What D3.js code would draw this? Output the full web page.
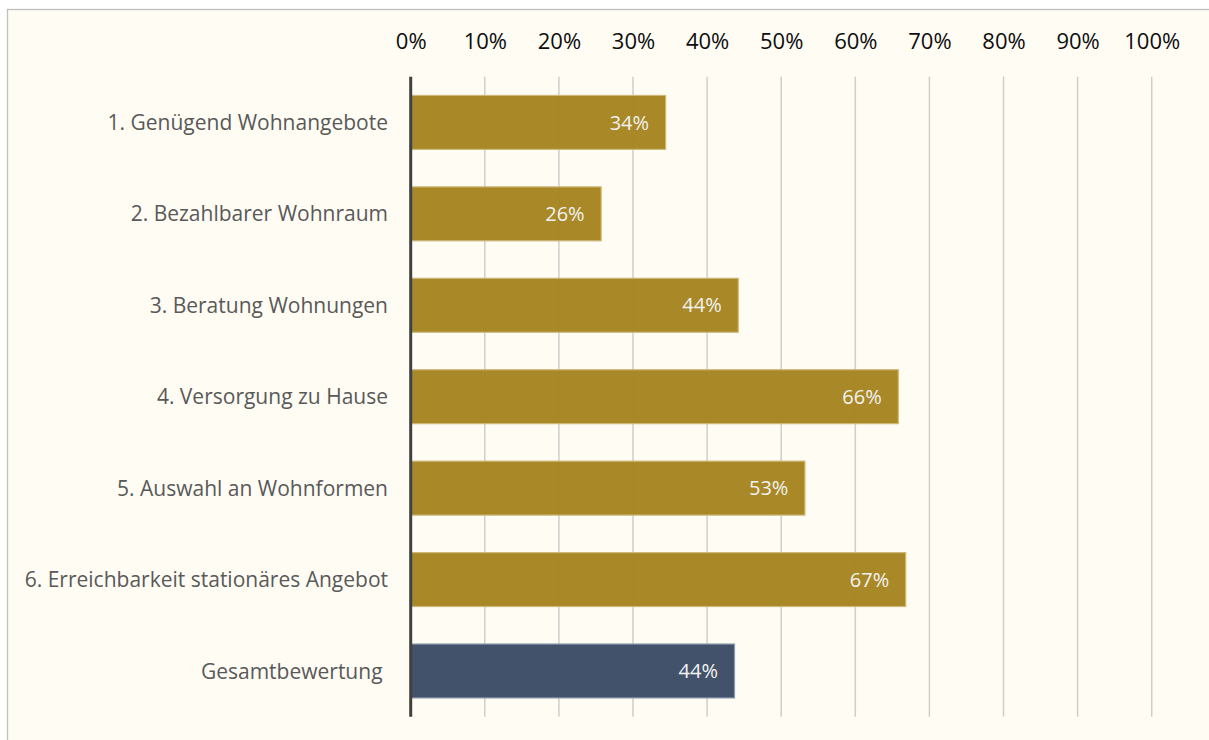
<!DOCTYPE html>
<html><head><meta charset="utf-8">
<script src="https://cdn.jsdelivr.net/npm/d3@7"></script>
<style>
html,body{margin:0;padding:0;background:#fff;}
svg{display:block;}
</style></head>
<body>
<svg id="chart" width="1209" height="740"></svg>
<script>
const categories = [
  "1. Genügend Wohnangebote",
  "2. Bezahlbarer Wohnraum",
  "3. Beratung Wohnungen",
  "4. Versorgung zu Hause",
  "5. Auswahl an Wohnformen",
  "6. Erreichbarkeit stationäres Angebot",
  "Gesamtbewertung\u00A0"
];
const values = [34.4, 25.7, 44.2, 65.8, 53.2, 66.8, 43.7];
const valueLabels = ["34%", "26%", "44%", "66%", "53%", "67%", "44%"];
const tickValues = [0, 10, 20, 30, 40, 50, 60, 70, 80, 90, 100];
const tickLabels = ["0%", "10%", "20%", "30%", "40%", "50%", "60%", "70%", "80%", "90%", "100%"];

(function () {
const svg = d3.select("#chart");
const W = 1209, H = 740;
svg.append("rect").attr("x", 0).attr("y", 0).attr("width", W).attr("height", H).attr("fill", "#ffffff");
svg.append("rect").attr("x", 7.5).attr("y", 9.5).attr("width", W + 10).attr("height", H + 10)
  .attr("fill", "#FFFCF4").attr("stroke", "#BFBFBF").attr("stroke-width", 1.3);

const pLeft = 410.7, pRight = 1151.7, pTop = 76.7, pBottom = 716.7;
const x = d3.scaleLinear().domain([0, 100]).range([pLeft, pRight]);
const y = d3.scaleBand().domain(categories).range([pTop, pBottom]).paddingInner(0.41).paddingOuter(0.205);

const font = "'Open Sans', 'DejaVu Sans', sans-serif";

svg.append("g").selectAll("line").data(tickValues.slice(1)).join("line")
  .attr("x1", d => x(d)).attr("x2", d => x(d))
  .attr("y1", pTop).attr("y2", pBottom)
  .attr("stroke", "#D0CECB").attr("stroke-width", 1.5);

const axis = d3.axisTop(x).tickValues(tickValues).tickFormat((d, i) => tickLabels[i]).tickSize(0).tickPadding(0);
const gAxis = svg.append("g").attr("transform", `translate(0,${49})`).call(axis);
gAxis.select(".domain").remove();
gAxis.selectAll("text").attr("font-family", font).attr("font-size", 22).attr("fill", "#0D0D0D").attr("dy", 0);

const colors = ["#A58420", "#A58420", "#A58420", "#A58420", "#A58420", "#A58420", "#42526A"];
const strokes = ["#CDB779", "#CDB779", "#CDB779", "#CDB779", "#CDB779", "#CDB779", "#8E9BAE"];
svg.append("g").selectAll("rect").data(values).join("rect")
  .attr("x", x(0)).attr("y", (d, i) => y(categories[i]))
  .attr("width", d => x(d) - x(0)).attr("height", y.bandwidth())
  .attr("fill", (d, i) => colors[i]).attr("fill-opacity", (d, i) => i === 6 ? 1 : 0.97)
  .attr("stroke", (d, i) => strokes[i]).attr("stroke-width", 1.2);

svg.append("g").selectAll("text").data(values).join("text")
  .attr("x", d => x(d) - 16.5)
  .attr("y", (d, i) => y(categories[i]) + y.bandwidth() / 2)
  .attr("dy", "0.36em")
  .attr("text-anchor", "end")
  .attr("font-family", font).attr("font-size", 20).attr("fill", "#F2F2F2")
  .text((d, i) => valueLabels[i]);

svg.append("g").selectAll("text").data(categories).join("text")
  .attr("x", 388).attr("y", d => y(d) + y.bandwidth() / 2)
  .attr("dy", "0.36em")
  .attr("text-anchor", "end")
  .attr("font-family", font).attr("font-size", 21).attr("fill", "#595959")
  .text(d => d);

svg.append("line").attr("x1", x(0)).attr("x2", x(0)).attr("y1", pTop).attr("y2", pBottom)
  .attr("stroke", "#404040").attr("stroke-width", 3);
})();
</script>
</body></html>
